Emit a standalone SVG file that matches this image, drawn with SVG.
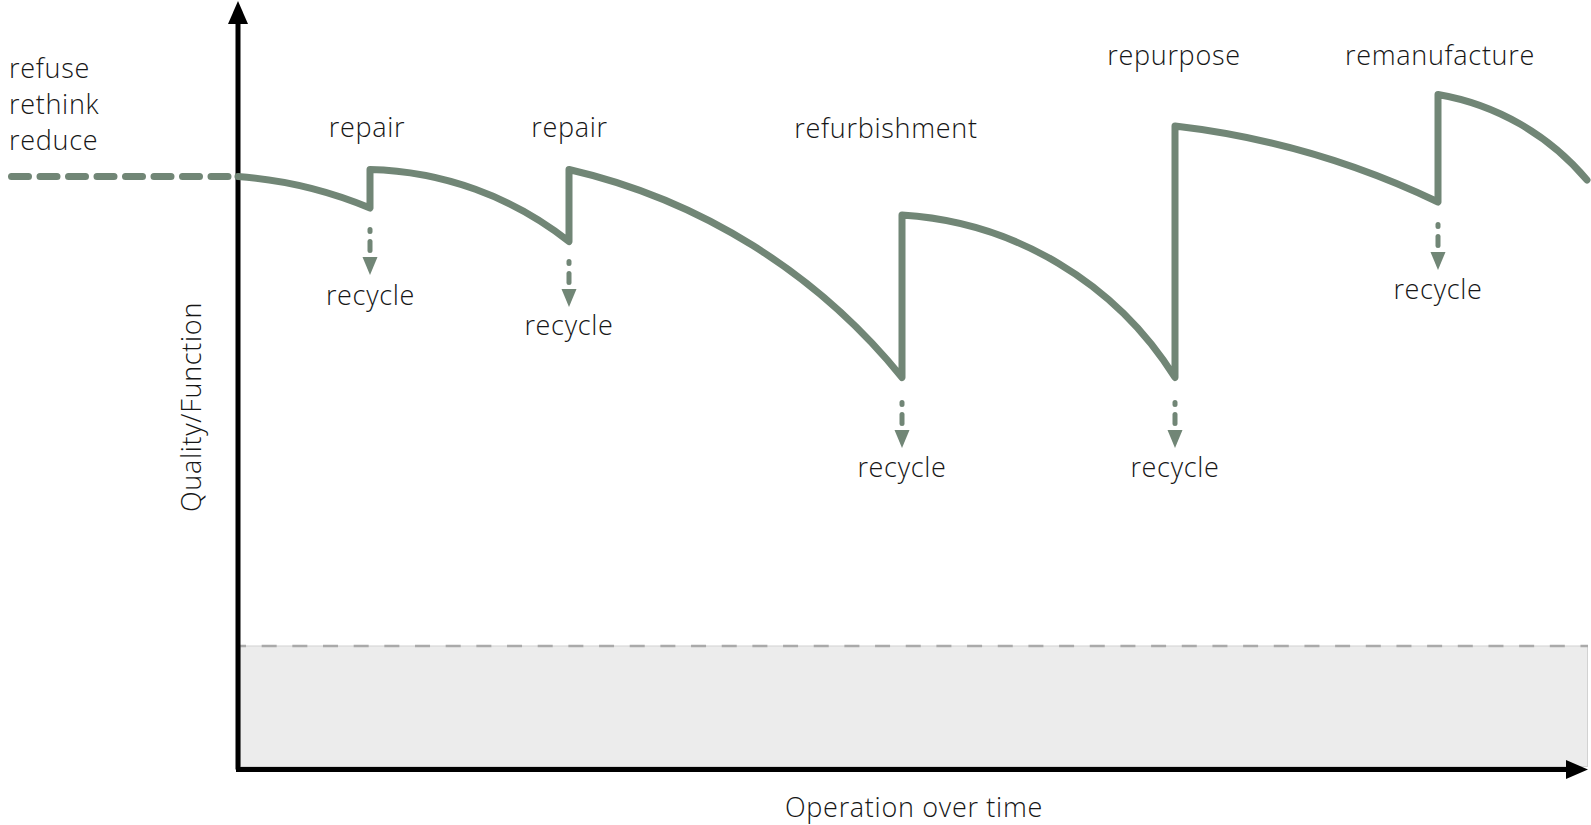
<svg xmlns="http://www.w3.org/2000/svg" xmlns:xlink="http://www.w3.org/1999/xlink" width="1591" height="825" viewBox="0 0 1591 825">
  <style>
    .lbl { font-family: "Open Sans", "Lato", "Liberation Sans", sans-serif; font-weight: 300; font-size: 27px; letter-spacing: 0.7px; fill: #161616; }
    .mid { text-anchor: middle; }
    .curve { fill: none; stroke: #718676; stroke-width: 7; stroke-linejoin: round; stroke-linecap: round; }
    .rcl { stroke: #718676; stroke-width: 5; stroke-linecap: round; fill: none; }
    .rch { fill: #718676; }
  </style>
  <defs>
    <g id="rc">
      <line class="rcl" x1="0" y1="2.5" x2="0" y2="4.5"/>
      <line class="rcl" x1="0" y1="14.5" x2="0" y2="23.5"/>
      <polygon class="rch" points="-7.5,30 7.5,30 0,48"/>
    </g>
  </defs>
  <rect width="1591" height="825" fill="#ffffff"/>

  <g id="zone">
    <rect x="240.5" y="646" width="1347" height="120.5" fill="#ececec" stroke="#d2d2d2" stroke-width="1"/>
    <line x1="240" y1="646" x2="1588" y2="646" stroke="#aaaaaa" stroke-width="2.5" stroke-dasharray="15 15.67" stroke-dashoffset="9"/>
  </g>

  <g id="axes">
    <line x1="238" y1="769.5" x2="238" y2="20" stroke="#000" stroke-width="5"/>
    <polygon points="238,1 228,24 248,24" fill="#000"/>
    <line x1="236" y1="769.5" x2="1570" y2="769.5" stroke="#000" stroke-width="5"/>
    <polygon points="1588,769.5 1566,760 1566,779" fill="#000"/>
  </g>

  <g id="connectors">
    <line x1="11.5" y1="176.5" x2="236" y2="176.5" class="curve" stroke-dasharray="17 11.5"/>
    <path class="curve" d="M 238 176.5 A 420 420 0 0 1 370 208 L 370 169.5 A 333 333 0 0 1 569 241.5 L 569 169.5 A 602 602 0 0 1 902 377.5 L 902 215 A 347 347 0 0 1 1175 377.5 L 1175 126 A 830 830 0 0 1 1438 202 L 1438 94.5 A 250 250 0 0 1 1587 180"/>
    <use xlink:href="#rc" transform="translate(370,227)"/>
    <use xlink:href="#rc" transform="translate(569,259)"/>
    <use xlink:href="#rc" transform="translate(902,400)"/>
    <use xlink:href="#rc" transform="translate(1175,400)"/>
    <use xlink:href="#rc" transform="translate(1438,222)"/>
  </g>

  <g id="node-start">
    <text class="lbl" x="9" y="78">refuse</text>
    <text class="lbl" x="9" y="114">rethink</text>
    <text class="lbl" x="9" y="150">reduce</text>
  </g>
  <g id="node-repair1"><text class="lbl mid" x="367" y="137">repair</text></g>
  <g id="node-repair2"><text class="lbl mid" x="569.5" y="137">repair</text></g>
  <g id="node-refurbishment"><text class="lbl mid" x="886" y="138">refurbishment</text></g>
  <g id="node-repurpose"><text class="lbl mid" x="1174" y="65">repurpose</text></g>
  <g id="node-remanufacture"><text class="lbl mid" x="1440" y="65">remanufacture</text></g>
  <g id="node-recycle1"><text class="lbl mid" x="370.5" y="305">recycle</text></g>
  <g id="node-recycle2"><text class="lbl mid" x="569" y="335">recycle</text></g>
  <g id="node-recycle3"><text class="lbl mid" x="902" y="477">recycle</text></g>
  <g id="node-recycle4"><text class="lbl mid" x="1175" y="477">recycle</text></g>
  <g id="node-recycle5"><text class="lbl mid" x="1438" y="299">recycle</text></g>
  <g id="axis-y-label"><text class="lbl mid" transform="translate(201,407) rotate(-90)" letter-spacing="1.6">Quality/Function</text></g>
  <g id="axis-x-label"><text class="lbl mid" x="914" y="817">Operation over time</text></g>
</svg>
